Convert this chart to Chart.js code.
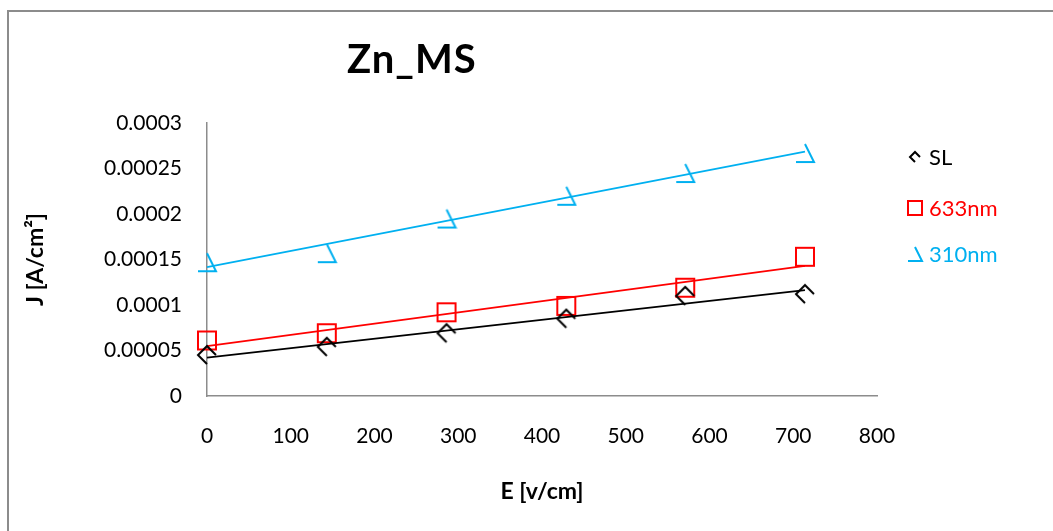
<!DOCTYPE html>
<html>
<head>
<meta charset="utf-8">
<title>Zn_MS</title>
<script src="https://cdn.jsdelivr.net/npm/chart.js@4.4.1/dist/chart.umd.min.js"></script>
<style>
  html, body { margin: 0; padding: 0; background: #fff; overflow: hidden; }
  #wrap { position: relative; width: 1053px; height: 531px; overflow: hidden; }
  #frame { position: absolute; left: 7px; top: 10px; width: 1200px; height: 700px; border: 2px solid #8c8c8c; box-sizing: border-box; }
  #chart { position: absolute; left: 0; top: 0; }
  #title { position: absolute; left: 347px; top: 34px; font: bold 40px Lato, sans-serif; letter-spacing: 1px; line-height: 1.2; color: #000; white-space: nowrap; }
  .leg { position: absolute; left: 905px; display: flex; align-items: center; font: 22px Lato, sans-serif; line-height: 1.2; white-space: nowrap; }
</style>
</head>
<body>
<div id="wrap">
  <div id="frame"></div>
  <canvas id="chart" width="1053" height="531"></canvas>
  <div id="title">Zn_MS</div>
  <div id="legend"></div>
</div>
<script>
// field strength (v/cm) and current density (A/cm²) per source
const fieldE = [0, 143, 286, 429, 571, 714];
const jSL    = [0.000045, 0.000054, 0.000069, 0.000085, 0.000110, 0.000112];
const j633   = [0.000061, 0.000069, 0.000092, 0.000099, 0.000119, 0.000153];
const j310   = [0.000147, 0.000157, 0.000195, 0.000220, 0.000245, 0.000267];

const seriesNames = ['SL', '633nm', '310nm'];
const xTicks = [0, 100, 200, 300, 400, 500, 600, 700, 800];
const yTicks = [0, 0.00005, 0.0001, 0.00015, 0.0002, 0.00025, 0.0003];

const FONT = 'Lato, Carlito, Calibri, sans-serif';
Chart.defaults.font.family = FONT;
Chart.defaults.color = '#000';

// open markers, only some edges stroked
function markerCanvas(kind, size, color) {
  const pad = 2;
  const c = document.createElement('canvas');
  c.width = c.height = size + pad * 2;
  const g = c.getContext('2d');
  g.strokeStyle = color;
  g.lineWidth = 2;
  const lo = pad, hi = pad + size, m = pad + size / 2;
  g.beginPath();
  if (kind === 'diamond') {
    g.moveTo(m, hi); g.lineTo(lo, m); g.lineTo(m, lo); g.lineTo(hi, m);
  } else if (kind === 'square') {
    g.rect(lo, lo, size, size);
  } else {
    g.moveTo(m, lo); g.lineTo(hi, hi); g.lineTo(lo, hi);
  }
  g.stroke();
  return c;
}

const toPoints = ys => ys.map((y, i) => ({ x: fieldE[i], y }));

// least squares line over the measured range
function linearFit(ys) {
  const n = ys.length;
  const mx = fieldE.reduce((a, b) => a + b, 0) / n;
  const my = ys.reduce((a, b) => a + b, 0) / n;
  let sxy = 0, sxx = 0;
  fieldE.forEach((x, i) => { sxy += (x - mx) * (ys[i] - my); sxx += (x - mx) * (x - mx); });
  const k = sxy / sxx, b = my - k * mx;
  const x0 = fieldE[0], x1 = fieldE[n - 1];
  return [{ x: x0, y: b + k * x0 }, { x: x1, y: b + k * x1 }];
}

const series = [
  { name: seriesNames[0], ys: jSL,  color: '#000000', kind: 'diamond', size: 18, legSize: 10 },
  { name: seriesNames[1], ys: j633, color: '#ff0000', kind: 'square',  size: 18, legSize: 14 },
  { name: seriesNames[2], ys: j310, color: '#00b0f0', kind: 'tri',     size: 18, legSize: 14 }
];

const datasets = [];
series.forEach(s => {
  datasets.push({
    label: s.name + ' trend', data: linearFit(s.ys), showLine: true,
    borderColor: s.color, borderWidth: 1.75, pointRadius: 0, clip: false
  });
  datasets.push({
    label: s.name, data: toPoints(s.ys), showLine: false,
    pointStyle: markerCanvas(s.kind, s.size, s.color), pointRadius: 10, clip: false
  });
});

new Chart(document.getElementById('chart'), {
  type: 'scatter',
  data: { datasets },
  options: {
    responsive: false,
    animation: false,
    events: [],
    layout: { padding: { left: 0, right: 176, top: 123, bottom: 0 } },
    plugins: { legend: { display: false }, tooltip: { enabled: false }, title: { display: false } },
    scales: {
      x: {
        type: 'linear', min: 0, max: 800,
        afterBuildTicks: s => { s.ticks = xTicks.map(v => ({ value: v })); },
        afterFit: s => { s.height = 135; },
        grid: { display: false, drawTicks: false },
        border: { display: true, color: '#8c8c8c', width: 1.5 },
        ticks: { padding: 28, font: { size: 21 }, color: '#000', maxRotation: 0 },
        title: { display: true, text: 'E [v/cm]', font: { size: 23, weight: 'bold' }, color: '#000', padding: { top: 0, bottom: 26 } }
      },
      y: {
        type: 'linear', min: 0, max: 0.0003,
        afterBuildTicks: s => { s.ticks = yTicks.map(v => ({ value: v })); },
        afterFit: s => { s.width = 207; },
        grid: { display: false, drawTicks: false },
        border: { display: true, color: '#8c8c8c', width: 1.5 },
        ticks: { padding: 25, font: { size: 21 }, color: '#000', callback: v => String(v) },
        title: { display: true, text: 'J [A/cm²]', font: { size: 23, weight: 'bold' }, color: '#000', padding: { top: 22, bottom: 0 } }
      }
    }
  }
});

// legend at the right, text in series colour
const legendTops = [144, 195, 241];
const legend = document.getElementById('legend');
series.forEach((s, i) => {
  const item = document.createElement('div');
  item.className = 'leg';
  item.style.top = legendTops[i] + 'px';
  item.style.color = s.color;
  const box = document.createElement('div');
  box.style.cssText = 'width:20px;display:flex;justify-content:center;margin-right:4px';
  box.appendChild(markerCanvas(s.kind, s.legSize, s.color));
  const label = document.createElement('span');
  label.textContent = s.name;
  item.appendChild(box);
  item.appendChild(label);
  legend.appendChild(item);
});
</script>
</body>
</html>
